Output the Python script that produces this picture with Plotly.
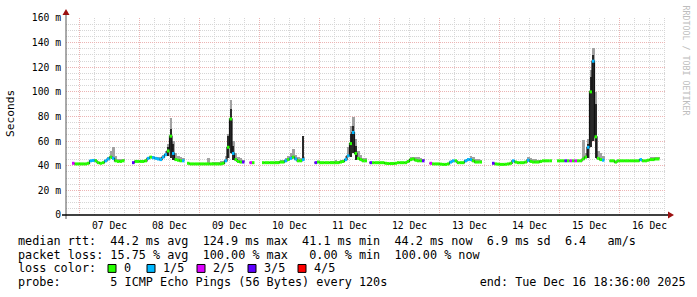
import plotly.graph_objects as go
from datetime import datetime, timedelta

# ---------------- data ----------------
ORIGIN = datetime(2025, 12, 7, 0, 0)      # hour 0 of the bins
RANGE_START = datetime(2025, 12, 6, 18, 36)
RANGE_END = datetime(2025, 12, 16, 18, 36)
FIRST_HOUR = -3                           # first hourly bin (hours from ORIGIN)

# hourly median RTT (ms), None = no data
median_ms = [
    42, 41.5, 41.5, 41.5, 41.5, 41.5, 42, 44, 44.3, 44, 42.5, 42,                 # -3..8
    42.5, 44, 45.5, 47, 46, 44, 43.5, 43.5, 44, None, None, None,                 # 9..20
    42.5, 43.5, 43.5, 43.5, 43.5, 44, 46, 47, 46.5, 46, 45.5, 45,                 # 21..32
    47, 49, 52, 64, 50, 45, 44.5, 44, 44, None, 42, 41.5,                         # 33..44
    41.5, 41.5, 41.5, 41.5, 41.5, 41.5, 41.5, 41.5, 41.5, 41.5, 41.5, 41.5,       # 45..56
    42, 44, 55, 78, 50, 45, 43.5, 43, 43, None, None, 42.5,                       # 57..68
    42.5, None, None, None, 42.5, 42.5, 42.5, 42.5, 42.5, 42.5, 42.5, 43,         # 69..80
    43, 44, 45, 46, 47, 45.5, 44, 44, 45, None, None, None,                       # 81..92
    None, 42.5, 43, 42.5, 42.5, 42.5, 42.5, 42.5, 42.5, 42.5, 42.5, 43,           # 93..104
    43.5, 45, 48, 58, 67, 50, 46, 45, 44, 44, None, 42.5,                         # 105..116
    42.5, 42.5, 42.5, 42.5, 42.5, 42, 41.8, 41.8, 41.8, 42, 42.5, 42.5,           # 117..128
    42.5, 42.5, 43.5, 45, 45.5, 44.5, 44, 44, 44, None, None, 42,                 # 129..140
    41.5, 41.5, 41.5, 41.3, 41.1, 41.1, 41.5, 43, 44, 44, 42.5, 42.5,             # 141..152
    42.5, 44, 45, 45, 44, 43, 43, 43, None, None, None, None,                     # 153..164
    42, 41.5, 41.3, 41.1, 41.1, 41.2, 41.5, 42, 44, 43, 42.5, 42.5,               # 165..176
    42.5, 43, 44.5, 43.5, 43, 43, 43, 43.5, 44, 44, 44, 44,                       # 177..188
    None, None, 44, 44, 44, 44, 44, 44, 44, 44, 44, 44,                           # 189..200
    45.5, 47, 55, 100, 124.9, 63.5, 46, 45, 44.5, None, None, 44,                 # 201..212
    44, 43, 44, 44, 44, 44, 44, 44, 44, 44, 44, 45,                               # 213..224
    44, 44, 44.5, 45, 45, 45.5, 45.5,                                             # 225..231
]

# packet loss per bin (number of lost pings out of 5); bins not listed = 0
loss_lost = {
    -3: 2, 4: 1, 5: 1, 10: 1, 11: 1, 13: 1,
    21: 3, 27: 1, 29: 1, 30: 1, 31: 1, 32: 1, 33: 1, 34: 1, 37: 1, 41: 1,
    58: 1, 61: 1, 65: 3, 68: 2,
    82: 1, 84: 1, 86: 1, 89: 1,
    94: 3, 106: 1, 107: 1, 109: 1,
    116: 3, 137: 3,
    140: 2, 148: 1, 149: 1, 154: 1, 155: 1, 156: 1,
    165: 3, 173: 1, 179: 1,
    194: 3, 196: 2, 198: 2, 203: 1, 205: 1, 209: 1,
    224: 1,
}

# top of the grey smoke (highest ping, ms)
smoke_max_ms = {
    5: 45, 6: 45, 11: 47, 12: 52, 13: 55.5, 14: 48, 15: 45.5, 16: 45.5, 17: 45,
    26: 45, 27: 47, 28: 48, 29: 48, 30: 47.5, 31: 47, 32: 47, 33: 49, 34: 52,
    35: 58, 36: 79, 37: 60, 38: 50, 39: 48, 40: 47, 41: 46,
    51: 46, 53: 43, 54: 43, 55: 43, 56: 43.5, 57: 44, 58: 48, 59: 66, 60: 93,
    61: 60, 62: 50, 63: 47, 64: 46, 65: 45,
    78: 44, 79: 44, 80: 44.5, 81: 45, 82: 46, 83: 48, 84: 50, 85: 53.6, 86: 49,
    87: 47, 88: 46, 89: 47,
    100: 44, 101: 44, 102: 44.5, 103: 44, 104: 44.5, 105: 45, 106: 48, 107: 55,
    108: 72, 109: 80, 110: 62, 111: 52, 112: 49, 113: 46.5, 114: 46,
    131: 45, 132: 47, 133: 47.5, 134: 47, 135: 47, 136: 46.5, 137: 45,
    155: 46.5, 156: 48, 157: 47, 158: 45.5, 159: 45.5, 160: 45,
    179: 47, 180: 46, 181: 45.5, 182: 45.5, 183: 45,
    201: 61, 202: 50, 203: 62, 204: 118, 205: 136, 206: 100, 207: 52, 208: 50, 209: 48,
    228: 47, 229: 47, 230: 47.5, 231: 47,
}

# dense (dark) part of the smoke: (low, high) in ms
dark_smoke_ms = {
    35: (48, 55), 36: (46, 70), 37: (45, 58),
    59: (46, 64), 60: (50, 86), 61: (45, 56),
    89: (45, 64),
    108: (47, 66), 109: (50, 72), 110: (45, 56),
    203: (46, 58), 204: (55, 112), 205: (60, 130), 206: (46, 90),
}

loss_colors = ["#26ff00", "#00b8ff", "#dd00ff", "#5e00ff", "#ff0000"]
loss_labels = ["0", "1/5", "2/5", "3/5", "4/5"]

y_ticks = [0, 20, 40, 60, 80, 100, 120, 140, 160]
y_ticktext = ["0"] + [f"{v} m" for v in y_ticks[1:]]

legend_lines = [
    "median rtt:  44.2 ms avg  124.9 ms max  41.1 ms min  44.2 ms now  6.9 ms sd  6.4   am/s",
    "packet loss: 15.75 % avg  100.00 % max   0.00 % min  100.00 % now",
    "loss color:",
    "probe:       5 ICMP Echo Pings (56 Bytes) every 120s             end: Tue Dec 16 18:36:00 2025",
]

# ---------------- figure ----------------
W, H = 697, 297
PL, PR, PT, PB = 66, 666, 16, 215
MONO = "DejaVu Sans Mono"


def px(x):
    return (x - PL) / (PR - PL)


def py(y):
    return (PB - y) / (PB - PT)


def t(h):
    return ORIGIN + timedelta(hours=h)


hours = list(range(FIRST_HOUR, FIRST_HOUR + len(median_ms)))
fig = go.Figure()

# light smoke
sx, sb, sh = [], [], []
for i, h in enumerate(hours):
    m = median_ms[i]
    if m is None or h not in smoke_max_ms:
        continue
    lo = m
    if h in dark_smoke_ms:
        lo = min(lo, dark_smoke_ms[h][0])
    sx.append(t(h + 0.5)); sb.append(lo); sh.append(smoke_max_ms[h] - lo)
fig.add_trace(go.Bar(x=sx, y=sh, base=sb, width=3600000, marker=dict(color="#a2a2a2", line=dict(width=0)),
                     hoverinfo="skip", showlegend=False))

# dark smoke (narrower core)
dx, db, dh = [], [], []
for h, (lo, hi) in dark_smoke_ms.items():
    dx.append(t(h + 0.5)); db.append(lo); dh.append(hi - lo)
fig.add_trace(go.Bar(x=dx, y=dh, base=db, width=2000000, marker=dict(color="#2a2a2a", line=dict(width=0)),
                     hoverinfo="skip", showlegend=False))

# black connectors of the median
fig.add_trace(go.Scatter(x=[t(h) for h in hours], y=median_ms, mode="lines",
                         line=dict(shape="hv", color="#111111", width=1.2), connectgaps=False,
                         hoverinfo="skip", showlegend=False))

# coloured median: one horizontal piece per bin, coloured by loss
for c, col in enumerate(loss_colors):
    xs, ys = [], []
    for i, h in enumerate(hours):
        m = median_ms[i]
        if m is None or loss_lost.get(h, 0) != c:
            continue
        xs += [t(h), t(h + 1), None]
        ys += [m, m, None]
    if xs:
        fig.add_trace(go.Scatter(x=xs, y=ys, mode="lines", line=dict(color=col, width=3),
                                 connectgaps=False, hoverinfo="skip", showlegend=False))

MGRID = "#ecb4b4"
GRID = "#d6d6d6"
fig.update_layout(
    width=W, height=H,
    margin=dict(l=PL, r=W - PR, t=PT, b=H - PB, pad=0),
    paper_bgcolor="white", plot_bgcolor="white",
    barmode="overlay", bargap=0,
    showlegend=False,
    font=dict(family=MONO, color="#000000"),
    xaxis=dict(
        type="date", range=[RANGE_START, RANGE_END],
        tick0=ORIGIN, dtick=86400000, ticklabelmode="period", tickformat="%d %b",
        showgrid=True, gridcolor=MGRID, griddash="1px,1px", gridwidth=1,
        minor=dict(dtick=6 * 3600000, tick0=ORIGIN, showgrid=True, gridcolor=GRID, griddash="1px,1px", gridwidth=1),
        showline=False, zeroline=False, ticks="",
        tickfont=dict(family=MONO, size=9.7, color="#000000"),
        ticklabelstandoff=3,
        fixedrange=True,
    ),
    yaxis=dict(
        range=[0, 160], tickvals=y_ticks, ticktext=y_ticktext,
        showgrid=True, gridcolor=MGRID, griddash="1px,1px", gridwidth=1,
        minor=dict(dtick=5, showgrid=True, gridcolor=GRID, griddash="1px,1px", gridwidth=1),
        showline=False, zeroline=False, ticks="",
        tickfont=dict(family=MONO, size=9.7, color="#000000"),
        ticklabelstandoff=4,
        fixedrange=True,
    ),
)

shapes = []
# axes lines with arrows
shapes.append(dict(type="line", xref="paper", yref="paper", x0=px(66), x1=px(66), y0=py(219), y1=py(12),
                   line=dict(color="#555555", width=1)))
shapes.append(dict(type="line", xref="paper", yref="paper", x0=px(62), x1=px(668), y0=py(215), y1=py(215),
                   line=dict(color="#000000", width=1.5)))
shapes.append(dict(type="path", xref="paper", yref="paper",
                   path=f"M {px(66)} {py(7)} L {px(62.5)} {py(13)} L {px(69.5)} {py(13)} Z",
                   fillcolor="#9b1010", line=dict(width=0)))
shapes.append(dict(type="path", xref="paper", yref="paper",
                   path=f"M {px(674)} {py(215)} L {px(668)} {py(211.5)} L {px(668)} {py(218.5)} Z",
                   fillcolor="#9b1010", line=dict(width=0)))

# legend colour boxes
box_x = [108, 147, 197, 248, 298]
for bx, col in zip(box_x, loss_colors):
    shapes.append(dict(type="rect", xref="paper", yref="paper", x0=px(bx), x1=px(bx + 8), y0=py(273), y1=py(265),
                       fillcolor=col, line=dict(color="#000000", width=1)))
fig.update_layout(shapes=shapes)

ann = []
NB = "\u00a0"
line_y = [241, 255, 269, 283]
for txt, yy in zip(legend_lines, line_y):
    ann.append(dict(text=txt.replace(" ", NB), xref="paper", yref="paper", x=px(16), y=py(yy),
                    xanchor="left", yanchor="middle", showarrow=False,
                    font=dict(family=MONO, size=11.8, color="#000000")))
for bx, lab in zip(box_x, loss_labels):
    ann.append(dict(text=lab, xref="paper", yref="paper", x=px(bx + 14), y=py(269),
                    xanchor="left", yanchor="middle", showarrow=False,
                    font=dict(family=MONO, size=11.8, color="#000000")))
ann.append(dict(text="Seconds", xref="paper", yref="paper", x=px(10), y=py(113), textangle=-90,
                xanchor="center", yanchor="middle", showarrow=False,
                font=dict(family=MONO, size=11.2, color="#000000")))
ann.append(dict(text="RRDTOOL / TOBI OETIKER", xref="paper", yref="paper", x=px(686), y=py(59), textangle=90,
                xanchor="center", yanchor="middle", showarrow=False,
                font=dict(family=MONO, size=8.3, color="#bdbdbd")))
fig.update_layout(annotations=ann)

fig.write_html("out.html", config={"displayModeBar": False})
